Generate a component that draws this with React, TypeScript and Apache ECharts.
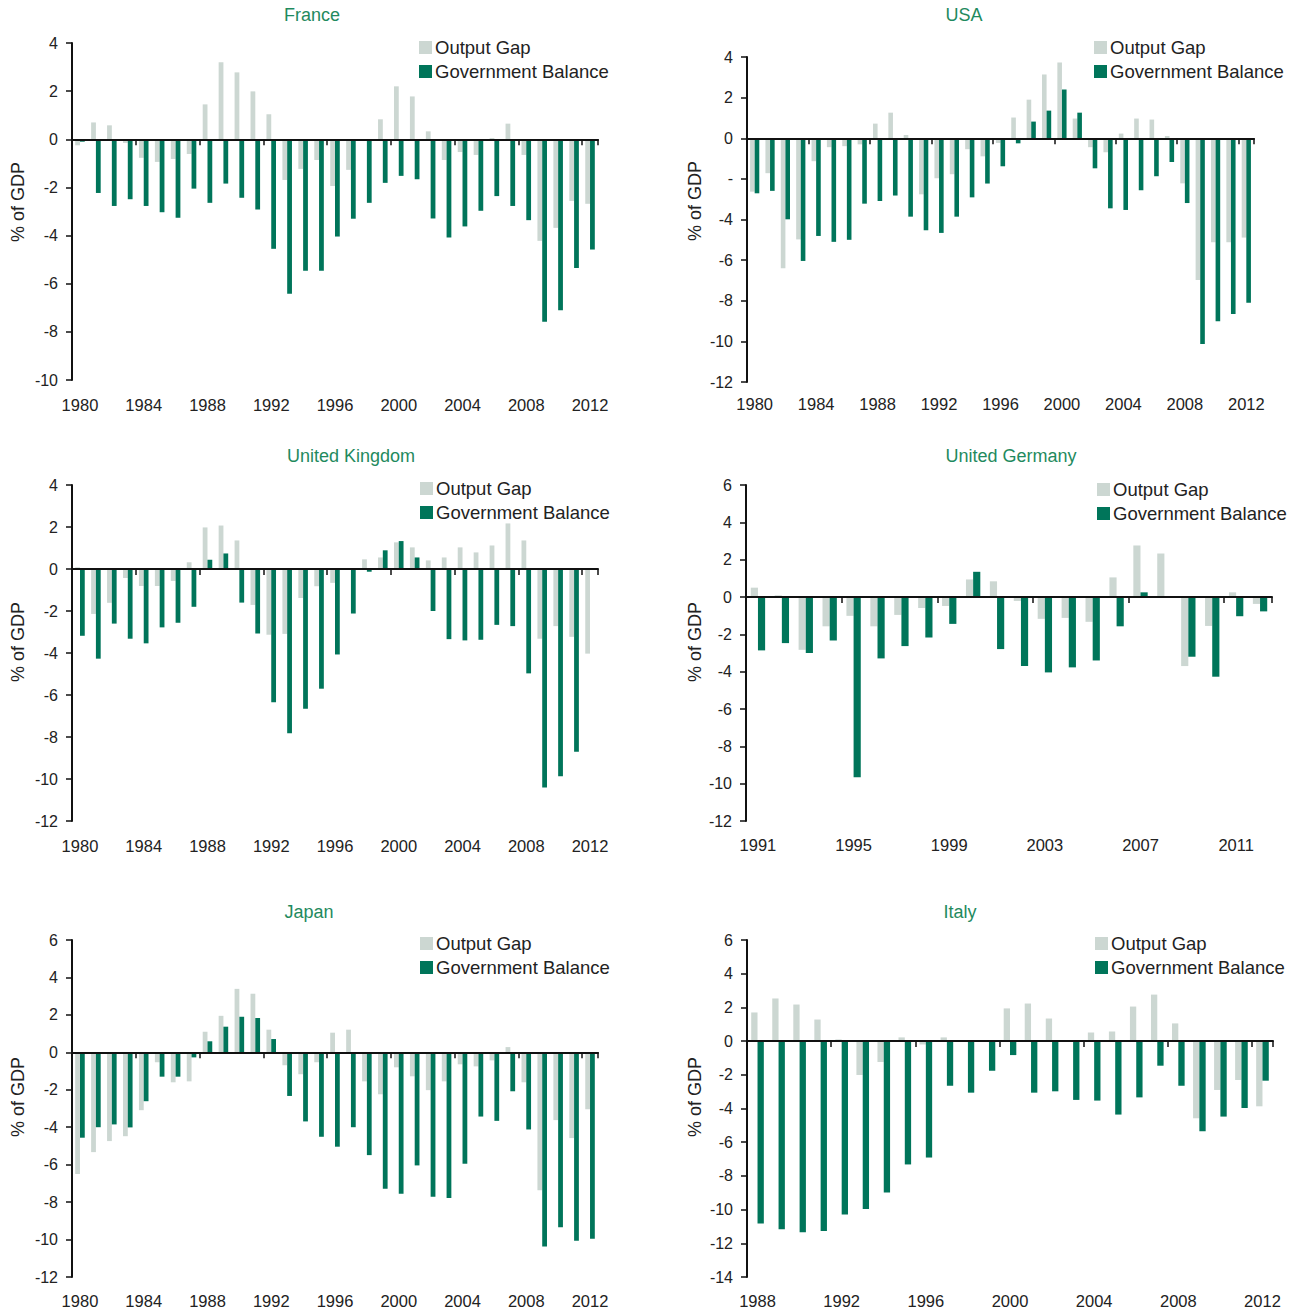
import React, { useEffect, useRef } from 'react';
import * as echarts from 'echarts';

// ---------- categories ----------
const years1980 = ['1980','1981','1982','1983','1984','1985','1986','1987','1988','1989','1990','1991','1992','1993','1994','1995','1996','1997','1998','1999','2000','2001','2002','2003','2004','2005','2006','2007','2008','2009','2010','2011','2012'];
const years1991 = ['1991','1992','1993','1994','1995','1996','1997','1998','1999','2000','2001','2002','2003','2004','2005','2006','2007','2008','2009','2010','2011','2012'];
const years1988 = ['1988','1989','1990','1991','1992','1993','1994','1995','1996','1997','1998','1999','2000','2001','2002','2003','2004','2005','2006','2007','2008','2009','2010','2011','2012'];

// ---------- series values (% of GDP) ----------
const franceGap = [-0.25, 0.7, 0.58, -0.15, -0.77, -0.94, -0.82, -0.61, 1.45, 3.2, 2.78, 1.99, 1.04, -1.69, -1.23, -0.86, -1.94, -1.27, 0, 0.83, 2.2, 1.78, 0.33, -0.86, -0.53, -0.65, 0.05, 0.65, -0.65, -4.22, -3.68, -2.56, -2.68];
const franceBal = [-0.1, -2.23, -2.77, -2.49, -2.77, -3.03, -3.26, -2.05, -2.64, -1.84, -2.43, -2.92, -4.55, -6.42, -5.46, -5.46, -4.04, -3.3, -2.64, -1.81, -1.52, -1.66, -3.29, -4.08, -3.62, -2.97, -2.36, -2.77, -3.36, -7.58, -7.1, -5.35, -4.58];

const usaGap = [-2.63, -1.72, -6.4, -4.98, -1.13, -0.44, -0.39, -0.3, 0.72, 1.26, 0.16, -2.76, -1.97, -1.77, -0.54, -0.89, -0.23, 1.02, 1.9, 3.14, 3.73, 0.97, -0.44, -0.69, 0.23, 0.97, 0.92, 0.11, -2.22, -6.98, -5.12, -5.12, -4.89];
const usaBal = [-2.71, -2.59, -3.99, -6.04, -4.81, -5.1, -5.0, -3.22, -3.09, -2.82, -3.86, -4.53, -4.66, -3.86, -2.91, -2.23, -1.38, -0.25, 0.82, 1.36, 2.4, 1.26, -1.48, -3.45, -3.53, -2.56, -1.87, -1.17, -3.19, -10.13, -9.01, -8.65, -8.1];

const ukGap = [0.08, -2.14, -1.61, -0.43, -0.81, -0.81, -0.57, 0.32, 1.98, 2.07, 1.36, -1.71, -3.13, -3.09, -1.38, -0.82, -0.66, 0, 0.46, 0.55, 1.27, 1.03, 0.41, 0.55, 1.03, 0.79, 1.12, 2.17, 1.36, -3.32, -2.72, -3.23, -4.03];
const ukBal = [-3.18, -4.27, -2.6, -3.32, -3.54, -2.78, -2.56, -1.8, 0.44, 0.74, -1.6, -3.07, -6.34, -7.82, -6.65, -5.7, -4.07, -2.12, -0.13, 0.89, 1.33, 0.55, -2.0, -3.34, -3.4, -3.37, -2.66, -2.72, -4.97, -10.41, -9.87, -8.7, null];

const deGap = [0.5, 0.09, -2.83, -1.57, -1.01, -1.57, -0.96, -0.59, -0.48, 0.94, 0.84, -0.21, -1.17, -1.12, -1.33, 1.05, 2.76, 2.33, -3.7, -1.55, 0.25, -0.37];
const deBal = [-2.86, -2.47, -3.0, -2.33, -9.66, -3.29, -2.63, -2.17, -1.44, 1.35, -2.79, -3.7, -4.04, -3.77, -3.4, -1.57, 0.25, -0.05, -3.2, -4.27, -1.03, -0.77];

const jpGap = [-6.5, -5.33, -4.74, -4.48, -3.09, -0.53, -1.6, -1.55, 1.1, 1.95, 3.39, 3.13, 1.21, -0.69, -1.17, -0.53, 1.05, 1.21, -1.55, -2.24, -0.8, -1.28, -2.02, -1.55, -0.64, -0.75, -0.43, 0.28, -1.6, -7.37, -3.62, -4.58, -3.04];
const jpBal = [-4.56, -4.0, -3.85, -4.01, -2.61, -1.3, -1.3, -0.27, 0.59, 1.37, 1.9, 1.83, 0.71, -2.33, -3.69, -4.51, -5.04, -4.0, -5.49, -7.28, -7.55, -6.04, -7.71, -7.78, -5.95, -3.43, -3.66, -2.08, -4.12, -10.37, -9.34, -10.07, -9.96];

const itGap = [1.7, 2.53, 2.17, 1.28, 0.1, -2.01, -1.24, 0.22, -0.2, 0.22, 0, 0, 1.94, 2.23, 1.34, 0, 0.51, 0.57, 2.05, 2.76, 1.05, -4.58, -2.9, -2.31, -3.87];
const itBal = [-10.82, -11.17, -11.35, -11.27, -10.29, -9.97, -8.98, -7.32, -6.91, -2.65, -3.06, -1.76, -0.83, -3.06, -2.98, -3.49, -3.53, -4.36, -3.34, -1.46, -2.65, -5.35, -4.48, -3.97, -2.35];

const seriesNames = ['Output Gap', 'Government Balance'];
const yAxisName = '% of GDP';

// ---------- layout / style ----------
const GRAY = '#ccd7d2';
const GREEN = '#00755a';
const TITLE = '#1f8a5e';
const TEXT = '#222222';
const FONT = '"Liberation Sans", Arial, Helvetica, sans-serif';

const panels = [
  { title: 'France', cats: years1980, gap: franceGap, bal: franceBal, min: -10, max: 4, xMargin: 16,
    grid: { left: 72, top: 43, width: 526, height: 337 }, titleXY: [312, 15], legendXY: [419, 38], nameXY: [18, 202] },
  { title: 'USA', cats: years1980, gap: usaGap, bal: usaBal, min: -12, max: 4, dashAt: -2, xMargin: 13,
    grid: { left: 747, top: 57, width: 507, height: 325 }, titleXY: [964, 15], legendXY: [1094, 38], nameXY: [695, 201] },
  { title: 'United Kingdom', cats: years1980, gap: ukGap, bal: ukBal, min: -12, max: 4, xMargin: 16,
    grid: { left: 72, top: 485, width: 526, height: 336 }, titleXY: [351, 456], legendXY: [420, 479], nameXY: [18, 642] },
  { title: 'United Germany', cats: years1991, gap: deGap, bal: deBal, min: -12, max: 6, xMargin: 15,
    grid: { left: 746, top: 485, width: 526, height: 336 }, titleXY: [1011, 456], legendXY: [1097, 480], nameXY: [695, 642] },
  { title: 'Japan', cats: years1980, gap: jpGap, bal: jpBal, min: -12, max: 6, xMargin: 15,
    grid: { left: 72, top: 940, width: 526, height: 337 }, titleXY: [309, 912], legendXY: [420, 934], nameXY: [18, 1097] },
  { title: 'Italy', cats: years1988, gap: itGap, bal: itBal, min: -14, max: 6, xMargin: 15,
    grid: { left: 747, top: 940, width: 526, height: 337 }, titleXY: [960, 912], legendXY: [1095, 934], nameXY: [695, 1097] },
];

function buildOption() {
  const grid: any[] = [];
  const xAxis: any[] = [];
  const yAxis: any[] = [];
  const series: any[] = [];
  const legend: any[] = [];
  const graphic: any[] = [];

  panels.forEach((p, i) => {
    grid.push({ ...p.grid, containLabel: false });
    // labels at the bottom of the grid
    xAxis.push({
      type: 'category', gridIndex: i, data: p.cats, position: 'bottom',
      axisLine: { show: false, onZero: false },
      axisTick: { show: false },
      axisLabel: { interval: 3, color: TEXT, fontSize: 16.5, fontFamily: FONT, margin: p.xMargin },
      splitLine: { show: false },
    });
    // zero line with ticks
    xAxis.push({
      type: 'category', gridIndex: i, data: p.cats, position: 'top', z: 5,
      axisLine: { show: true, onZero: true, lineStyle: { color: '#111', width: 2 } },
      axisTick: { show: true, interval: 3, inside: true, length: 6, lineStyle: { color: '#111', width: 1.5 } },
      axisLabel: { show: false },
      splitLine: { show: false },
    });
    const dashAt = (p as any).dashAt;
    yAxis.push({
      type: 'value', gridIndex: i, min: p.min, max: p.max, interval: 2,
      axisLine: { show: true, lineStyle: { color: '#111', width: 2 } },
      axisTick: { show: true, length: 6, lineStyle: { color: '#111', width: 1.5 } },
      axisLabel: {
        color: TEXT, fontSize: 16, fontFamily: FONT, margin: 14,
        formatter: (v: number) => (dashAt !== undefined && v === dashAt ? '-' : String(v)),
      },
      splitLine: { show: false },
    });
    series.push({
      name: seriesNames[0], type: 'bar', xAxisIndex: 2 * i, yAxisIndex: i, data: p.gap,
      barWidth: '30%', barGap: '0%', itemStyle: { color: GRAY },
    });
    series.push({
      name: seriesNames[1], type: 'bar', xAxisIndex: 2 * i, yAxisIndex: i, data: p.bal,
      barWidth: '30%', barGap: '0%', itemStyle: { color: GREEN },
    });
    legend.push({
      data: seriesNames, orient: 'vertical', left: p.legendXY[0], top: p.legendXY[1],
      padding: 0, itemWidth: 13, itemHeight: 13, itemGap: 5, icon: 'rect', selectedMode: false,
      textStyle: { fontSize: 18.5, color: TEXT, fontFamily: FONT, padding: [0, 0, 0, -2] },
    });
    graphic.push({
      type: 'text', x: p.titleXY[0], y: p.titleXY[1],
      style: { text: p.title, fill: TITLE, fontSize: 18, fontFamily: FONT,
        textAlign: 'center', textVerticalAlign: 'middle', align: 'center', verticalAlign: 'middle' },
    });
    graphic.push({
      type: 'text', x: p.nameXY[0], y: p.nameXY[1], rotation: Math.PI / 2,
      style: { text: yAxisName, fill: TEXT, fontSize: 18, fontFamily: FONT,
        textAlign: 'center', textVerticalAlign: 'middle', align: 'center', verticalAlign: 'middle' },
    });
  });

  return {
    animation: false,
    backgroundColor: '#ffffff',
    textStyle: { fontFamily: FONT },
    grid, xAxis, yAxis, series, legend, graphic,
  };
}

export default function App() {
  const ref = useRef<HTMLDivElement>(null);
  useEffect(() => {
    document.body.style.margin = '0';
    if (!ref.current) return;
    const chart = echarts.init(ref.current, null, { renderer: 'svg' });
    chart.setOption(buildOption() as any);
    return () => chart.dispose();
  }, []);
  return <div ref={ref} style={{ width: 1301, height: 1311 }} />;
}
